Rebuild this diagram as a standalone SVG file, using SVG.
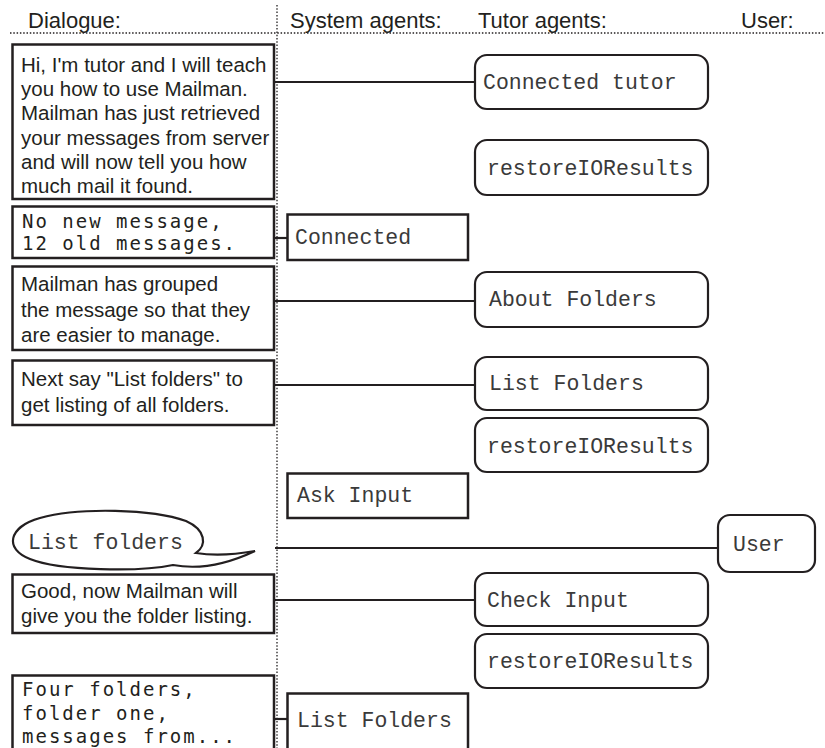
<svg xmlns="http://www.w3.org/2000/svg" width="825" height="748" viewBox="0 0 825 748">
<style>
.hdr{font-family:"Liberation Sans",Arial,sans-serif;font-size:22px;fill:#231f20}
.body{font-family:"Liberation Sans",Arial,sans-serif;font-size:20.5px;fill:#231f20}
.lcd{font-family:"DejaVu Sans Mono",monospace;font-size:19px;letter-spacing:2px;fill:#231f20}
.mono{font-family:"Liberation Mono","Courier New",monospace;font-size:21.5px;fill:#3a3a3a}
.dlg{fill:#fff;stroke:#231f20;stroke-width:2.5}
.sys{fill:#fff;stroke:#231f20;stroke-width:2.5}
.tut{fill:#fff;stroke:#231f20;stroke-width:2.2}
.dot{stroke:#231f20;stroke-width:1.3;stroke-dasharray:1.5 1.8;fill:none}
.conn line{stroke:#231f20;stroke-width:2.2}
</style>
<rect width="825" height="748" fill="#fff"/>
<g id="grid">
<line class="dot" x1="10" y1="33" x2="825" y2="33"/>
<line class="dot" x1="277" y1="5" x2="277" y2="748"/>
<text class="hdr" x="28" y="28">Dialogue:</text>
<text class="hdr" x="290" y="28">System agents:</text>
<text class="hdr" x="478" y="28">Tutor agents:</text>
<text class="hdr" x="741" y="28">User:</text>
</g>
<g class="conn" id="connectors">
<line x1="274" y1="82" x2="475" y2="82"/>
<line x1="274" y1="238" x2="287" y2="238"/>
<line x1="274" y1="301" x2="475" y2="301"/>
<line x1="274" y1="385" x2="475" y2="385"/>
<line x1="275" y1="548" x2="718" y2="548"/>
<line x1="274" y1="600" x2="475" y2="600"/>
<line x1="274" y1="719" x2="287" y2="719"/>
</g>
<g id="d1">
<rect class="dlg" x="12.5" y="44.5" width="261.5" height="154.5"/>
<text class="body" x="21" y="72">Hi, I'm tutor and I will teach</text>
<text class="body" x="21" y="96">you how to use Mailman.</text>
<text class="body" x="21" y="120">Mailman has just retrieved</text>
<text class="body" x="21" y="145">your messages from server</text>
<text class="body" x="21" y="169">and will now tell you how</text>
<text class="body" x="21" y="193">much mail it found.</text>
</g>
<g id="d2">
<rect class="dlg" x="12.5" y="206.5" width="261.5" height="51.5"/>
<text class="lcd" x="22" y="228">No new message,</text>
<text class="lcd" x="22" y="250">12 old messages.</text>
</g>
<g id="d3">
<rect class="dlg" x="12.5" y="266.5" width="261.5" height="83.5"/>
<text class="body" x="21" y="291">Mailman has grouped</text>
<text class="body" x="21" y="317">the message so that they</text>
<text class="body" x="21" y="342">are easier to manage.</text>
</g>
<g id="d4">
<rect class="dlg" x="12.5" y="360.5" width="261.5" height="64.5"/>
<text class="body" x="21" y="386">Next say "List folders" to</text>
<text class="body" x="21" y="412">get listing of all folders.</text>
</g>
<g id="bubble">
<path d="M196,553 C215,556 238,554 255,551 C236,560 205,571 173,565 C140,572 60,571 30,559 C4,549 8,527 40,518 C80,507 152,509 186,521 C206,530 207,545 196,553 Z" fill="#fff" stroke="#231f20" stroke-width="2.2"/>
<text class="mono" x="28" y="549">List folders</text>
</g>
<g id="d5">
<rect class="dlg" x="12.5" y="574.5" width="261.5" height="58.5"/>
<text class="body" x="21" y="598">Good, now Mailman will</text>
<text class="body" x="21" y="623">give you the folder listing.</text>
</g>
<g id="d6">
<rect class="dlg" x="12.5" y="675.5" width="261.5" height="90"/>
<text class="lcd" x="22" y="696">Four folders,</text>
<text class="lcd" x="22" y="720">folder one,</text>
<text class="lcd" x="22" y="743">messages from...</text>
</g>
<g id="s1">
<rect class="sys" x="287.5" y="214.5" width="180.5" height="45.5"/>
<text class="mono" x="295" y="244">Connected</text>
</g>
<g id="s2">
<rect class="sys" x="287.5" y="473.5" width="180.5" height="44.5"/>
<text class="mono" x="297" y="502">Ask Input</text>
</g>
<g id="s3">
<rect class="sys" x="287.5" y="693.5" width="180.5" height="70"/>
<text class="mono" x="297" y="727">List Folders</text>
</g>
<g id="t1">
<rect class="tut" x="475" y="55" width="233" height="54" rx="12"/>
<text class="mono" x="483" y="89">Connected tutor</text>
</g>
<g id="t2">
<rect class="tut" x="475" y="140" width="233" height="55" rx="12"/>
<text class="mono" x="487" y="175">restoreIOResults</text>
</g>
<g id="t3">
<rect class="tut" x="475" y="272" width="233" height="55" rx="12"/>
<text class="mono" x="489" y="306">About Folders</text>
</g>
<g id="t4">
<rect class="tut" x="475" y="357" width="233" height="53" rx="12"/>
<text class="mono" x="489" y="390">List Folders</text>
</g>
<g id="t5">
<rect class="tut" x="475" y="418" width="233" height="54" rx="12"/>
<text class="mono" x="487" y="453">restoreIOResults</text>
</g>
<g id="t6">
<rect class="tut" x="475" y="573" width="233" height="53" rx="12"/>
<text class="mono" x="487" y="607">Check Input</text>
</g>
<g id="t7">
<rect class="tut" x="475" y="634" width="233" height="54" rx="12"/>
<text class="mono" x="487" y="668">restoreIOResults</text>
</g>
<g id="user">
<rect class="tut" x="718" y="515" width="97" height="57" rx="12"/>
<text class="mono" x="733" y="551">User</text>
</g>
</svg>
